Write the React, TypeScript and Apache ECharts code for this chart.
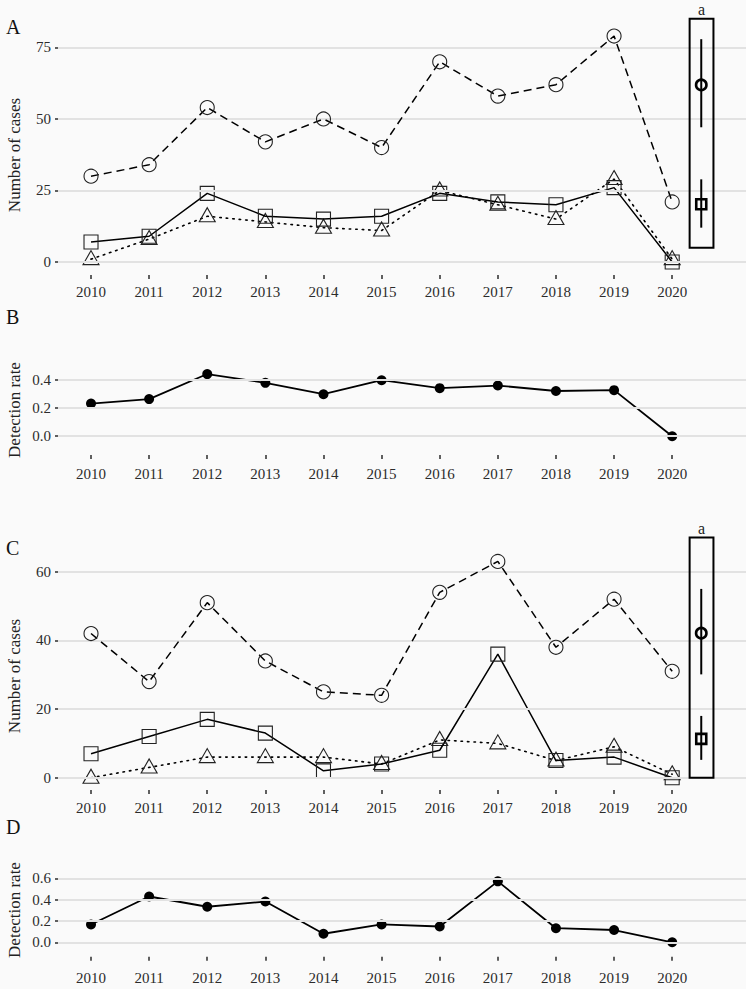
import { useEffect, useRef } from "react";
import * as echarts from "echarts";

// ---------- data ----------
const years = [2010, 2011, 2012, 2013, 2014, 2015, 2016, 2017, 2018, 2019, 2020];

// Panel A
const aTotal = [30, 34, 54, 42, 50, 40, 70, 58, 62, 79, 21];
const aDetected = [7, 9, 24, 16, 15, 16, 24, 21, 20, 26, 0];
const aOther = [1, 8, 16, 14, 12, 11, 25, 20, 15, 29, 1];
const aTicks = [0, 25, 50, 75];
// [x, y, low, high, kind(0 circle / 1 square)]
const aSummary = [
  [2020.5, 61.9, 47.1, 77.9, 0],
  [2020.5, 20.2, 12.0, 28.9, 1],
];
// [x0, x1, y0, y1]
const aBox = [[2020.3, 2020.71, 5, 85]];

// Panel B
const bRate = [0.233, 0.265, 0.444, 0.381, 0.3, 0.4, 0.343, 0.362, 0.323, 0.329, 0];
const bTicks = [0, 0.2, 0.4];

// Panel C
const cTotal = [42, 28, 51, 34, 25, 24, 54, 63, 38, 52, 31];
const cDetected = [7, 12, 17, 13, 2, 4, 8, 36, 5, 6, 0];
const cOther = [0, 3, 6, 6, 6, 4, 11, 10, 5, 9, 1];
const cTicks = [0, 20, 40, 60];
const cSummary = [
  [2020.5, 42.1, 30.1, 55.0, 0],
  [2020.5, 11.3, 5.2, 18.0, 1],
];
const cBox = [[2020.3, 2020.71, 0, 70]];

// Panel D
const dRate = [0.167, 0.429, 0.333, 0.382, 0.08, 0.167, 0.148, 0.571, 0.132, 0.115, 0];
const dTicks = [0, 0.2, 0.4, 0.6];

const boxLabel = "a";
const panelLetters = ["A", "B", "C", "D"];
const countTitle = "Number of cases";
const rateTitle = "Detection rate";

// ---------- styles ----------
const FONT = '"Liberation Serif", "DejaVu Serif", serif';
const TXT = "#2b2b2b";
const GRIDLINE = "#e2e2e2";

const pairs = (arr: number[]) => years.map((y, i) => [y, arr[i]]);

export default function App() {
  const ref = useRef<HTMLDivElement>(null);

  useEffect(() => {
    if (!ref.current) return;
    const chart = echarts.init(ref.current, null, { renderer: "svg" });

    const grids = [
      { left: 58, right: 0, top: 6, height: 269 },
      { left: 58, right: 0, top: 362, height: 93 },
      { left: 58, right: 0, top: 525.4, height: 264.6 },
      { left: 58, right: 0, top: 863, height: 93.7 },
    ];
    const yRanges = [
      { min: -4.55, max: 89.5, ticks: aTicks, fmt: (v: number) => String(v) },
      { min: -0.134, max: 0.53, ticks: bTicks, fmt: (v: number) => v.toFixed(1) },
      { min: -3.58, max: 73.5, ticks: cTicks, fmt: (v: number) => String(v) },
      { min: -0.135, max: 0.743, ticks: dTicks, fmt: (v: number) => v.toFixed(1) },
    ];
    const xMargins = [9, 11, 10, 14];

    const xAxis = grids.map((_, i) => ({
      type: "value",
      gridIndex: i,
      min: 2009.432,
      max: 2021.27,
      axisLine: { show: false, onZero: false },
      splitLine: { show: false },
      axisTick: {
        show: true,
        length: 4,
        customValues: years,
        lineStyle: { color: TXT, width: 1.5 },
      },
      axisLabel: {
        customValues: years,
        formatter: (v: number) => String(v),
        fontFamily: FONT,
        fontSize: 15,
        color: TXT,
        margin: xMargins[i],
      },
    }));

    const yAxis = yRanges.map((r, i) => ({
      type: "value",
      gridIndex: i,
      min: r.min,
      max: r.max,
      axisLine: { show: false, onZero: false },
      splitLine: { show: false },
      axisTick: {
        show: true,
        length: 3,
        customValues: r.ticks,
        lineStyle: { color: TXT, width: 1.5 },
      },
      axisLabel: {
        customValues: r.ticks,
        formatter: r.fmt,
        fontFamily: FONT,
        fontSize: 15,
        color: TXT,
        margin: 7,
      },
    }));

    const series: any[] = [];

    // gridlines
    yRanges.forEach((r, i) => {
      series.push({
        type: "line",
        xAxisIndex: i,
        yAxisIndex: i,
        data: [],
        z: 0,
        silent: true,
        markLine: {
          silent: true,
          symbol: ["none", "none"],
          label: { show: false },
          lineStyle: { color: GRIDLINE, width: 2, type: "solid" },
          data: r.ticks.map((v) => ({ yAxis: v })),
        },
      });
    });

    const countSeries = (idx: number, total: number[], det: number[], other: number[]) => {
      series.push({
        type: "line",
        xAxisIndex: idx,
        yAxisIndex: idx,
        data: pairs(other),
        symbol: "triangle",
        symbolSize: [16, 14],
        symbolOffset: [0, -1.5],
        lineStyle: { color: "#000", width: 1.6, type: [1.5, 5], cap: "round" },
        itemStyle: { color: "rgba(0,0,0,0)", borderColor: "#222", borderWidth: 1.1 },
        z: 3,
      });
      series.push({
        type: "line",
        xAxisIndex: idx,
        yAxisIndex: idx,
        data: pairs(det),
        symbol: "rect",
        symbolSize: 14,
        lineStyle: { color: "#000", width: 1.5, type: "solid" },
        itemStyle: { color: "rgba(0,0,0,0)", borderColor: "#222", borderWidth: 1.1 },
        z: 4,
      });
      series.push({
        type: "line",
        xAxisIndex: idx,
        yAxisIndex: idx,
        data: pairs(total),
        symbol: "circle",
        symbolSize: 14,
        lineStyle: { color: "#000", width: 1.5, type: [8, 5] },
        itemStyle: { color: "rgba(0,0,0,0)", borderColor: "#222", borderWidth: 1.1 },
        z: 5,
      });
    };

    const summarySeries = (idx: number, box: number[][], summary: number[][]) => {
      series.push({
        type: "custom",
        xAxisIndex: idx,
        yAxisIndex: idx,
        clip: false,
        z: 6,
        encode: { x: [0, 1], y: [2, 3] },
        data: box,
        renderItem: (_p: any, api: any) => {
          const p0 = api.coord([api.value(0), api.value(3)]);
          const p1 = api.coord([api.value(1), api.value(2)]);
          return {
            type: "group",
            children: [
              {
                type: "rect",
                shape: { x: p0[0], y: p0[1], width: p1[0] - p0[0], height: p1[1] - p0[1] },
                style: { fill: "none", stroke: "#000", lineWidth: 2 },
              },
              {
                type: "text",
                x: (p0[0] + p1[0]) / 2,
                y: p0[1] - 1,
                style: {
                  text: boxLabel,
                  fill: "#222",
                  font: `16px ${FONT}`,
                  align: "center",
                  verticalAlign: "bottom",
                  textAlign: "center",
                  textVerticalAlign: "bottom",
                },
              },
            ],
          };
        },
      });
      series.push({
        type: "custom",
        xAxisIndex: idx,
        yAxisIndex: idx,
        clip: false,
        z: 7,
        encode: { x: 0, y: [1, 2, 3] },
        data: summary,
        renderItem: (_p: any, api: any) => {
          const c = api.coord([api.value(0), api.value(1)]);
          const lo = api.coord([api.value(0), api.value(2)]);
          const hi = api.coord([api.value(0), api.value(3)]);
          const kind = api.value(4);
          const marker =
            kind === 0
              ? {
                  type: "circle",
                  shape: { cx: c[0], cy: c[1], r: 5.2 },
                  style: { fill: "none", stroke: "#000", lineWidth: 2.6 },
                }
              : {
                  type: "rect",
                  shape: { x: c[0] - 5, y: c[1] - 5, width: 10, height: 10 },
                  style: { fill: "none", stroke: "#000", lineWidth: 2.6 },
                };
          return {
            type: "group",
            children: [
              {
                type: "line",
                shape: { x1: c[0], y1: lo[1], x2: c[0], y2: hi[1] },
                style: { stroke: "#000", lineWidth: 2 },
              },
              marker,
            ],
          };
        },
      });
    };

    const rateSeries = (idx: number, rate: number[]) => {
      series.push({
        type: "line",
        xAxisIndex: idx,
        yAxisIndex: idx,
        data: pairs(rate),
        symbol: "circle",
        symbolSize: 10,
        lineStyle: { color: "#000", width: 1.8 },
        itemStyle: { color: "#000" },
        z: 4,
      });
    };

    countSeries(0, aTotal, aDetected, aOther);
    summarySeries(0, aBox, aSummary);
    rateSeries(1, bRate);
    countSeries(2, cTotal, cDetected, cOther);
    summarySeries(2, cBox, cSummary);
    rateSeries(3, dRate);

    const letterY = [27, 317, 548, 827];
    const titleY = [155, 410, 676, 910];
    const titles = [countTitle, rateTitle, countTitle, rateTitle];

    const graphic: any[] = [];
    panelLetters.forEach((L, i) => {
      graphic.push({
        type: "text",
        x: 6,
        y: letterY[i],
        style: {
          text: L,
          fill: "#111",
          font: `20px ${FONT}`,
          textAlign: "left",
          textVerticalAlign: "middle",
        },
      });
      graphic.push({
        type: "text",
        x: 14,
        y: titleY[i],
        rotation: Math.PI / 2,
        style: {
          text: titles[i],
          fill: "#222",
          font: `17px ${FONT}`,
          textAlign: "center",
          textVerticalAlign: "middle",
        },
      });
    });

    chart.setOption({
      animation: false,
      backgroundColor: "#fafafa",
      grid: grids,
      xAxis,
      yAxis,
      series,
      graphic,
    });

    return () => chart.dispose();
  }, []);

  return (
    <div
      ref={ref}
      style={{ position: "fixed", left: 0, top: 0, width: 746, height: 989, background: "#fafafa" }}
    />
  );
}
